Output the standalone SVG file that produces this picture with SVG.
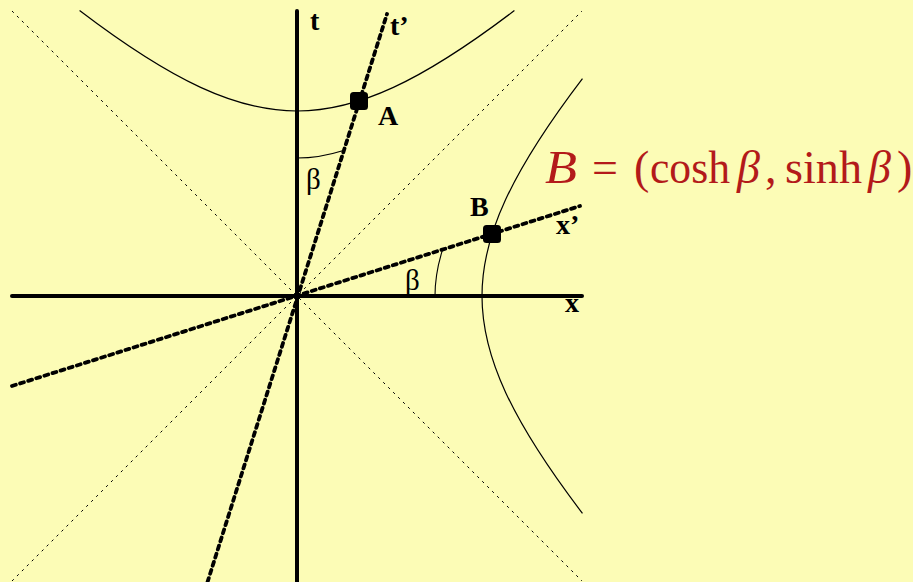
<svg xmlns="http://www.w3.org/2000/svg" width="913" height="582" viewBox="0 0 913 582">
<style>
.axis{stroke:#000;stroke-width:4;stroke-linecap:round;fill:none}
.dash{stroke:#000;stroke-width:3.8;stroke-linecap:round;stroke-dasharray:4 4.5;fill:none}
.cone{stroke:#000;stroke-width:1;stroke-dasharray:2.5 4.5;fill:none}
.hyp{stroke:#000;stroke-width:1.2;fill:none}
.arc{stroke:#000;stroke-width:1.1;fill:none}
.lbl{font-family:"Liberation Serif","Times New Roman",serif;font-weight:bold;font-size:28px;fill:#000}
.beta{font-family:"Liberation Serif","Times New Roman",serif;font-size:29px;fill:#000}
.eq{font-family:"Liberation Serif","Times New Roman",serif;font-size:46px;fill:#B31A1A}
.it{font-style:italic}
.pt{fill:#000}
</style>
<rect x="0" y="0" width="913" height="582" fill="#FCFCB6"/>
<g id="connectors">
  <line class="cone" x1="12" y1="11" x2="582" y2="581"/>
  <line class="cone" x1="12" y1="581" x2="582" y2="11"/>
  <path class="hyp" d="M79.59 10.53 C127.17 46.77 165.83 71.32 200.60 87.39 C235.37 103.46 266.17 111 297 111 C327.83 111 358.63 103.46 393.40 87.39 C428.17 71.32 466.83 46.77 514.41 10.53"/>
  <path class="hyp" d="M582.47 78.59 C546.23 126.17 521.68 164.83 505.61 199.60 C489.54 234.37 482 265.17 482 296 C482 326.83 489.54 357.63 505.61 392.40 C521.68 427.17 546.23 465.83 582.47 513.41"/>
  <line class="axis" x1="297" y1="11" x2="297" y2="590"/>
  <line class="axis" x1="12" y1="296" x2="582" y2="296"/>
  <line class="dash" x1="12" y1="386" x2="580" y2="206"/>
  <line class="dash" x1="205" y1="590" x2="387" y2="14"/>
  <path class="arc" d="M297 158 C311.94 158 326.88 155.60 342.61 150.66"/>
  <path class="arc" d="M435 296 C435 281.06 437.40 266.12 442.34 250.39"/>
</g>
<g id="axis-t"><text class="lbl" x="310" y="30">t</text></g>
<g id="axis-tp"><text class="lbl" x="390" y="35">t’</text></g>
<g id="axis-x"><text class="lbl" x="565" y="312">x</text></g>
<g id="axis-xp"><text class="lbl" x="556" y="234">x’</text></g>
<g id="point-A">
  <rect class="pt" x="350" y="92" width="18" height="18" rx="3.5"/>
  <text class="lbl" x="378" y="125">A</text>
</g>
<g id="point-B">
  <rect class="pt" x="483" y="225" width="18" height="18" rx="3.5"/>
  <text class="lbl" x="470" y="216">B</text>
</g>
<g id="angle-t"><text class="beta" x="306" y="189">β</text></g>
<g id="angle-x"><text class="beta" x="405" y="290">β</text></g>
<g id="formula">
  <text class="eq" y="183"><tspan class="it" x="545" textLength="32" lengthAdjust="spacingAndGlyphs">B</tspan><tspan x="592">=</tspan><tspan x="634">(</tspan><tspan x="650" textLength="80" lengthAdjust="spacingAndGlyphs">cosh</tspan><tspan class="it" x="737">β</tspan><tspan x="765">,</tspan><tspan x="785" textLength="77" lengthAdjust="spacingAndGlyphs">sinh</tspan><tspan class="it" x="868">β</tspan><tspan x="897">)</tspan></text>
</g>
</svg>
